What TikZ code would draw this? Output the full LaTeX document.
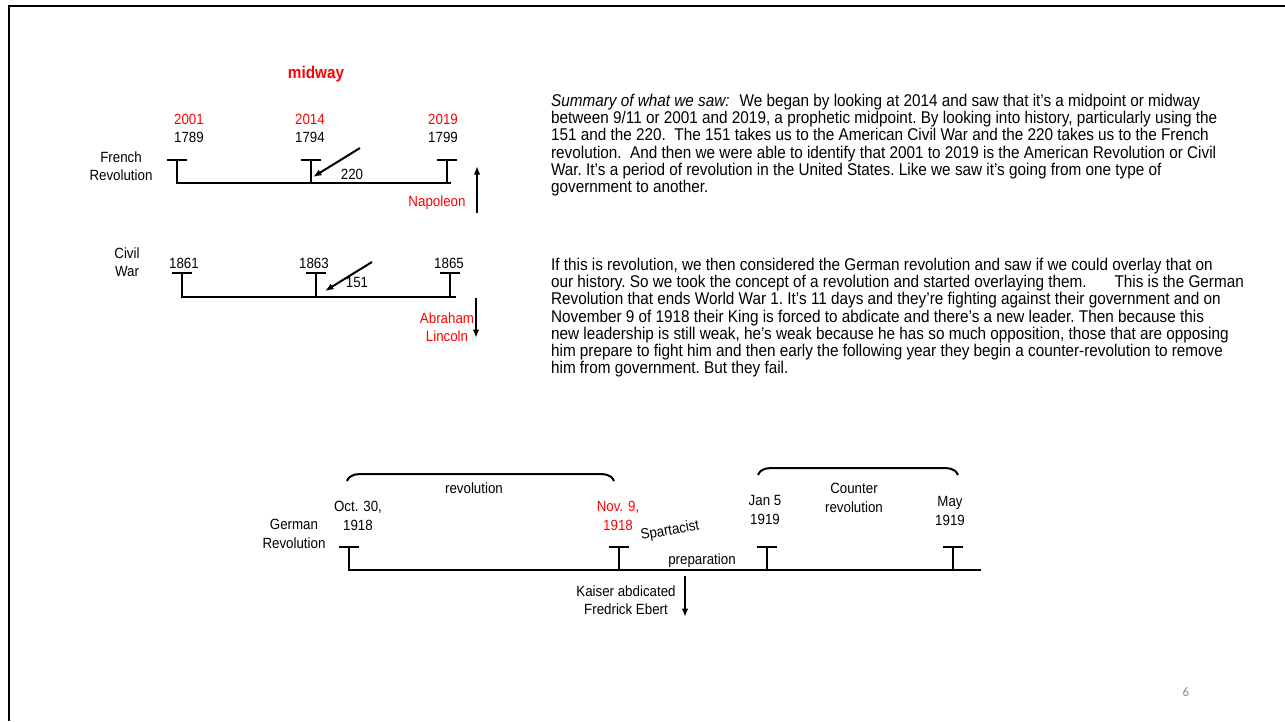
\documentclass[tikz,border=0pt]{standalone}
\usepackage{fontspec}
\setmainfont{Liberation Sans}[FakeStretch=0.9]
\newfontfamily\pagefont{Carlito}
\usetikzlibrary{arrows.meta}

\begin{document}
\begin{tikzpicture}[x=1pt,y=-1pt,line width=2.2pt,
	every node/.style={inner sep=0pt,font=\fontsize{14.8}{18.5}\selectfont,align=center},
	hot/.style={text=red},
	tl/.style={line cap=rect},
	arr/.style={-{Latex[length=8.5pt,width=6.5pt]},line width=2pt},
	para/.style={anchor=north west,align=left,font=\fontsize{17}{17.25}\selectfont\frenchspacing}]
	\useasboundingbox (0,0) rectangle (1285,721);
	\draw[line width=2pt] (9,721) -- (9,6) -- (1285,6);

	% French Revolution
	\node[hot,font=\fontsize{17}{17}\selectfont\bfseries] (midway) at (316,74) {midway};
	\coordinate (F1) at (177,183);
	\coordinate (F2) at (311,183);
	\coordinate (F3) at (447,183);
	\coordinate (Fend) at (450,183);
	\draw[tl] (F1) -- (Fend);
	\foreach \t in {F1,F2,F3}
		\draw[tl] (\t) -- ++(0,-23) coordinate (\t top) ([xshift=-8.5pt]\t top) -- ([xshift=8.5pt]\t top);
	\node (frl) at (121,166) {French\\Revolution};
	\node[hot] (y2001) at (189,119) {2001};
	\node[hot] (y2014) at (310,119) {2014};
	\node[hot] (y2019) at (443,119) {2019};
	\node (y1789) at (189,137) {1789};
	\node (y1794) at (310,137) {1794};
	\node (y1799) at (443,137) {1799};
	\coordinate (a220) at (360,148);
	\coordinate (F2hit) at (313,177);
	\draw[arr] (a220) -- (F2hit);
	\node (n220) at (352,174) {220};
	\node[hot] (napoleon) at (437,203) {Napoleon};
	\coordinate (nap0) at (477,213);
	\coordinate (nap1) at (477,166);
	\draw[arr] (nap0) -- (nap1);

	% Civil War
	\coordinate (C1) at (182,297);
	\coordinate (C2) at (316,297);
	\coordinate (C3) at (450,297);
	\coordinate (Cend) at (455,297);
	\draw[tl] (C1) -- (Cend);
	\foreach \t in {C1,C2,C3}
		\draw[tl] (\t) -- ++(0,-24) coordinate (\t top) ([xshift=-8.5pt]\t top) -- ([xshift=8.5pt]\t top);
	\node (cwar) at (127,262) {Civil\\War};
	\node (y1861) at (184,263) {1861};
	\node (y1863) at (314,263) {1863};
	\node (y1865) at (449,263) {1865};
	\coordinate (a151) at (372,262);
	\coordinate (C2hit) at (325,291);
	\draw[arr] (a151) -- (C2hit);
	\node (n151) at (357,282) {151};
	\node[hot] (lincoln) at (447,327) {Abraham\\Lincoln};
	\coordinate (lin0) at (476,298);
	\coordinate (lin1) at (476,338);
	\draw[arr] (lin0) -- (lin1);

	% summary text
	\node[para] (summary) at (550,93) {\textit{Summary of what we saw:}\hspace{10pt}We began by looking at 2014 and saw that it's a midpoint or midway\\
		between 9/11 or 2001 and 2019, a prophetic midpoint. By looking into history, particularly using the\\
		151 and the 220.\enspace The 151 takes us to the American Civil War and the 220 takes us to the French\\
		revolution.\enspace And then we were able to identify that 2001 to 2019 is the American Revolution or Civil\\
		War. It's a period of revolution in the United States. Like we saw it's going from one type of\\
		government to another.};
	\node[para] (overlay) at (550,257) {If this is revolution, we then considered the German revolution and saw if we could overlay that on\\
		our history. So we took the concept of a revolution and started overlaying them.\hspace{28pt}This is the German\\
		Revolution that ends World War 1. It's 11 days and they're fighting against their government and on\\
		November 9 of 1918 their King is forced to abdicate and there's a new leader. Then because this\\
		new leadership is still weak, he's weak because he has so much opposition, those that are opposing\\
		him prepare to fight him and then early the following year they begin a counter-revolution to remove\\
		him from government. But they fail.};

	% German Revolution
	\coordinate (G1) at (349,570);
	\coordinate (G2) at (619,570);
	\coordinate (G3) at (767,570);
	\coordinate (G4) at (953,570);
	\coordinate (Gend) at (980,570);
	\draw[tl] (G1) -- (Gend);
	\foreach \t in {G1,G2,G3,G4}
		\draw[tl] (\t) -- ++(0,-23) coordinate (\t top) ([xshift=-8.5pt]\t top) -- ([xshift=8.5pt]\t top);
	\node (grev) at (294,534) {German\\Revolution};
	\node (oct) at (358,516) {Oct. 30,\\1918};
	\node[hot] (nov) at (618,516) {Nov. 9,\\1918};
	\node[rotate=10] (spart) at (670,531) {Spartacist};
	\node (prep) at (702,561) {preparation};
	\node (jan) at (765,510) {Jan 5\\1919};
	\node (counter) at (854,498) {Counter\\revolution};
	\node (may) at (950,511) {May\\1919};
	\node (revo) at (474,488) {revolution};
	\draw[line width=2pt] (347,481) .. controls (350,474) and (356,474) .. (366,474) -- (595,474) .. controls (605,474) and (611,474) .. (614,481);
	\draw[line width=2pt] (758,475) .. controls (761,468) and (767,468) .. (777,468) -- (939,468) .. controls (949,468) and (955,468) .. (958,475);
	\coordinate (kai0) at (685,576);
	\coordinate (kai1) at (685,617);
	\draw[arr] (kai0) -- (kai1);
	\node (kaiser) at (626,600) {Kaiser abdicated\\Fredrick Ebert};

	\node[text=black!45,font=\pagefont\fontsize{13}{13}\selectfont] (pgno) at (1186,692) {6};
\end{tikzpicture}
\end{document}
